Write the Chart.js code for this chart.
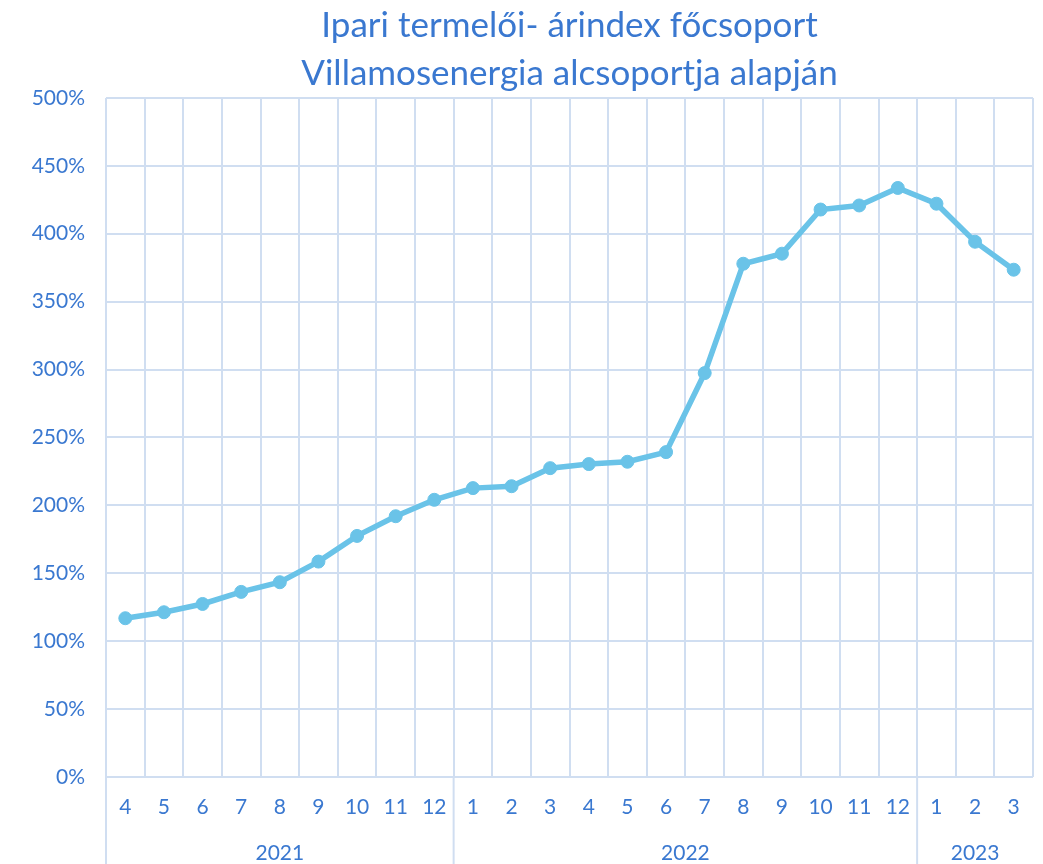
<!DOCTYPE html>
<html>
<head>
<meta charset="utf-8">
<script src="https://cdn.jsdelivr.net/npm/chart.js@4.4.0/dist/chart.umd.min.js"></script>
<style>
  html, body { margin: 0; padding: 0; background: #ffffff; }
  #wrap { width: 1043px; height: 864px; position: relative; }
</style>
</head>
<body>
<div id="wrap"><canvas id="c" width="1043" height="864"></canvas></div>
<script>
const titleLines = ['Ipari termelői- árindex főcsoport', 'Villamosenergia alcsoportja alapján'];
const months = ['4','5','6','7','8','9','10','11','12','1','2','3','4','5','6','7','8','9','10','11','12','1','2','3'];
const years = ['2021', '2022', '2023'];
const yearSpans = [9, 12, 3];
const values = [116.9, 121.3, 127.4, 136.3, 143.4, 158.6, 177.5, 192.0, 204.1, 212.7, 214.1, 227.4, 230.4, 232.1, 239.2, 297.4, 377.9, 385.3, 417.8, 420.8, 433.7, 422.1, 394.1, 373.5];

const textColor = '#3A78D0';
const gridColor = '#D0DEF1';
const lineColor = '#6AC3E8';
const fontFamily = 'Lato, "Open Sans", sans-serif';

const yearPlugin = {
  id: 'yearPlugin',
  afterDraw(chart) {
    const ctx = chart.ctx;
    const xs = chart.scales.x;
    const top = xs.top;
    const bottom = chart.height;
    ctx.save();
    ctx.strokeStyle = gridColor;
    ctx.lineWidth = 2;
    ctx.fillStyle = textColor;
    ctx.font = '21px ' + fontFamily;
    ctx.textAlign = 'center';
    ctx.textBaseline = 'middle';
    let start = 0;
    years.forEach((yr, i) => {
      const end = start + yearSpans[i] - 1;
      const half = (xs.getPixelForValue(1) - xs.getPixelForValue(0)) / 2;
      const left = xs.getPixelForValue(start) - half;
      ctx.beginPath();
      ctx.moveTo(left, top);
      ctx.lineTo(left, bottom);
      ctx.stroke();
      const mid = (xs.getPixelForValue(start) + xs.getPixelForValue(end)) / 2;
      ctx.fillText(yr, mid, 853);
      start = end + 1;
    });
    ctx.restore();
  }
};

new Chart(document.getElementById('c'), {
  type: 'line',
  data: {
    labels: months,
    datasets: [{
      data: values,
      borderColor: lineColor,
      backgroundColor: lineColor,
      borderWidth: 5.5,
      pointRadius: 6.5,
      pointBorderWidth: 1,
      pointHoverRadius: 6.5,
      pointBackgroundColor: lineColor,
      pointBorderColor: lineColor,
      tension: 0
    }]
  },
  options: {
    responsive: false,
    animation: false,
    devicePixelRatio: 1,
    layout: { padding: { left: 0, right: 10, top: 0, bottom: 0 } },
    plugins: {
      legend: { display: false },
      tooltip: { enabled: false },
      title: {
        display: true,
        fullSize: false,
        text: titleLines,
        color: textColor,
        font: { family: fontFamily, size: 35, weight: 'normal', lineHeight: 1.37 },
        padding: { top: 2, bottom: 0 }
      }
    },
    scales: {
      x: {
        offset: true,
        grid: {
          offset: true,
          drawTicks: false,
          lineWidth: 2,
          color: (c) => (c.index === months.length ? 'rgba(0,0,0,0)' : gridColor)
        },
        border: { display: false },
        ticks: {
          color: textColor,
          font: { family: fontFamily, size: 21 },
          padding: 18,
          autoSkip: false,
          maxRotation: 0
        },
        afterFit(scale) { scale.height = 87; }
      },
      y: {
        min: 0,
        max: 500,
        grid: { drawTicks: false, lineWidth: 2, color: gridColor },
        border: { display: false },
        ticks: {
          stepSize: 50,
          color: textColor,
          font: { family: fontFamily, size: 21 },
          padding: 21,
          callback: (v) => v + '%'
        },
        afterFit(scale) { scale.width = 106; }
      }
    }
  },
  plugins: [yearPlugin]
});
</script>
</body>
</html>
